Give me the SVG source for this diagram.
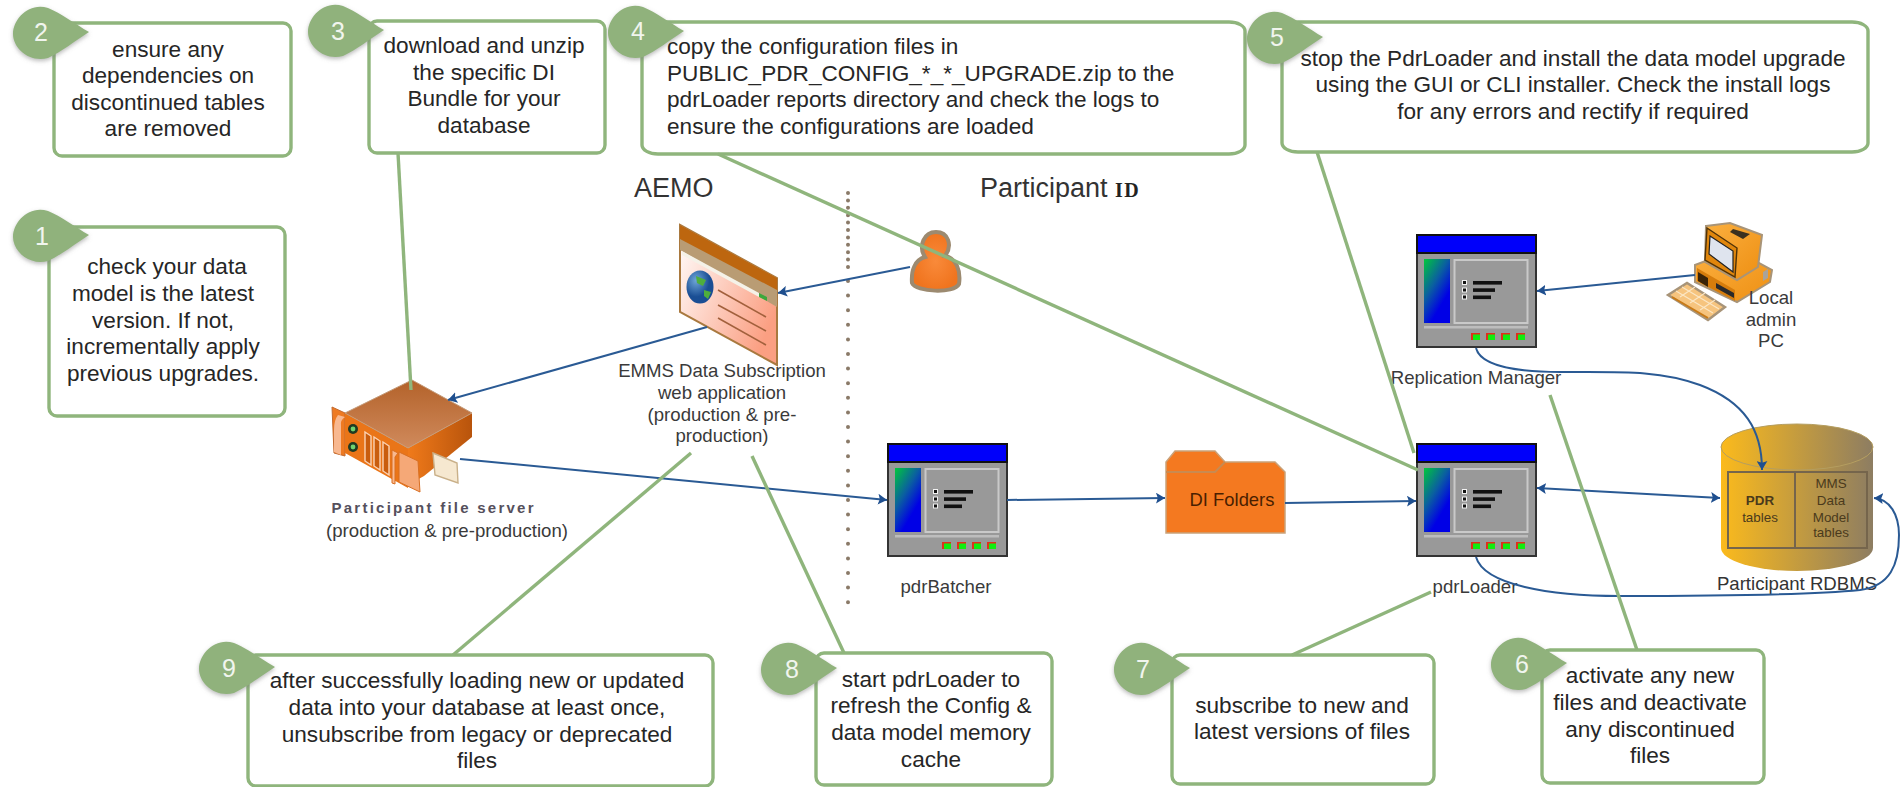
<svg xmlns="http://www.w3.org/2000/svg" xmlns:xlink="http://www.w3.org/1999/xlink" width="1901" height="787" viewBox="0 0 1901 787">
<style>
text{font-family:"Liberation Sans",Arial,sans-serif;fill:#262626}
.t{font-size:22.6px;text-anchor:middle}
.l{font-size:22.6px}
.n{font-size:25px;text-anchor:middle;fill:#f1f5ee}
.s{font-size:18.6px;text-anchor:middle;fill:#3a3a3a}
.h{font-size:27px;fill:#333}
.c{font-size:13.4px;text-anchor:middle;fill:#4a3a1c}
.box{fill:#fff;stroke:#8fb57c;stroke-width:3.4}
.g{stroke:#8fb57c;stroke-width:3.4;fill:none}
.b{stroke:#2a5a94;stroke-width:2;fill:none}
</style>
<defs>
<filter id="sh" x="-20%" y="-20%" width="140%" height="150%"><feDropShadow dx="0" dy="2" stdDeviation="2" flood-color="#777" flood-opacity=".5"/></filter>
<marker id="ah" viewBox="0 0 10 12" refX="10" refY="6" markerWidth="9" markerHeight="11" markerUnits="userSpaceOnUse" orient="auto-start-reverse"><path d="M0 0L10 6L0 12L2 6Z" fill="#1f4f8f"/></marker>
<linearGradient id="wg" x1="0" y1="0" x2=".55" y2=".8"><stop offset="0" stop-color="#00c83c"/><stop offset=".55" stop-color="#0a5fa0"/><stop offset="1" stop-color="#0000e6"/></linearGradient>
<linearGradient id="cy"><stop offset="0" stop-color="#fbba1c"/><stop offset="1" stop-color="#8d7d62"/></linearGradient>
<linearGradient id="sal" x1="0" y1="0" x2="1" y2=".6"><stop offset="0" stop-color="#fff"/><stop offset="1" stop-color="#fb9f82"/></linearGradient>
<linearGradient id="top" x1="0" y1="0" x2="0" y2="1"><stop offset="0" stop-color="#b3622a"/><stop offset="1" stop-color="#d08a5c"/></linearGradient>
<linearGradient id="rs"><stop offset="0" stop-color="#f07a1a"/><stop offset="1" stop-color="#b8540c"/></linearGradient>
<radialGradient id="pr"><stop offset="0" stop-color="#f98a3a"/><stop offset="1" stop-color="#f0741e"/></radialGradient>
<radialGradient id="gl" cx=".35" cy=".3"><stop offset="0" stop-color="#6fa6d8"/><stop offset="1" stop-color="#1a4e94"/></radialGradient>
<linearGradient id="pco" x1="0" y1="0" x2="1" y2="1"><stop offset="0" stop-color="#fbb040"/><stop offset="1" stop-color="#ee8f12"/></linearGradient>
<path id="badge" d="M0 0C-14 -8 -28 -19 -41 -24C-60 -30 -76 -13 -76 2C-76 16 -60 31 -41 26C-28 20 -14 9 0 0Z" fill="#90b27c" filter="url(#sh)"/>
<g id="win">
<rect x="1" y="1" width="119" height="112" fill="#999" stroke="#333" stroke-width="2"/>
<rect x="1" y="1" width="119" height="18" fill="#0000fa" stroke="#111" stroke-width="2"/>
<rect x="8" y="25" width="26" height="64" fill="url(#wg)"/>
<rect x="38.5" y="26" width="73" height="63" fill="none" stroke="#c9c9c9" stroke-width="2"/>
<rect x="8" y="92" width="104" height="2.5" fill="#bdbdbd"/>
<g fill="#f2f2f2"><rect x="46" y="46" width="5" height="5"/><rect x="46" y="53.5" width="5" height="5"/><rect x="46" y="60.5" width="5" height="5"/></g>
<g fill="#111"><rect x="47" y="47" width="3" height="3"/><rect x="47" y="54.5" width="3" height="3"/><rect x="47" y="61.5" width="3" height="3"/></g>
<g fill="#111"><rect x="57" y="47" width="29" height="3.6"/><rect x="57" y="54.3" width="22" height="3.6"/><rect x="57" y="61.5" width="18" height="3.6"/></g>
<g fill="#e0301c"><rect x="55" y="99" width="9" height="7"/><rect x="70" y="99" width="9" height="7"/><rect x="85" y="99" width="9" height="7"/><rect x="100" y="99" width="9" height="7"/></g>
<g fill="#10ee10"><rect x="57" y="100.5" width="7" height="5.5"/><rect x="72" y="100.5" width="7" height="5.5"/><rect x="87" y="100.5" width="7" height="5.5"/><rect x="102" y="100.5" width="7" height="5.5"/></g>
</g>
</defs>
<rect width="1901" height="787" fill="#fff"/>

<g id="node-2"><rect class="box" x="54" y="23" width="237" height="133" rx="8"/><use xlink:href="#badge" href="#badge" x="89" y="32"/><text class="n" x="41" y="41">2</text>
<text class="t" x="168" y="57">ensure any</text><text class="t" x="168" y="83">dependencies on</text><text class="t" x="168" y="110">discontinued tables</text><text class="t" x="168" y="136">are removed</text></g>

<g id="node-3"><rect class="box" x="369" y="21" width="236" height="132" rx="8"/><use xlink:href="#badge" href="#badge" x="384" y="30"/><text class="n" x="338" y="40">3</text>
<text class="t" x="484" y="53">download and unzip</text><text class="t" x="484" y="80">the specific DI</text><text class="t" x="484" y="106">Bundle for your</text><text class="t" x="484" y="133">database</text></g>

<g id="node-1"><rect class="box" x="49" y="227" width="236" height="189" rx="8"/><use xlink:href="#badge" href="#badge" x="89" y="235"/><text class="n" x="42" y="245">1</text>
<text class="t" x="167" y="274">check your data</text><text class="t" x="163" y="301">model is the latest</text><text class="t" x="163" y="328">version. If not,</text><text class="t" x="163" y="354">incrementally apply</text><text class="t" x="163" y="381">previous upgrades.</text></g>

<g id="node-4"><rect class="box" x="642" y="22" width="603" height="132" rx="16" ry="9"/><use xlink:href="#badge" href="#badge" x="684" y="31"/><text class="n" x="638" y="40">4</text>
<text class="l" x="667" y="54">copy the configuration files in</text><text class="l" x="667" y="81">PUBLIC_PDR_CONFIG_*_*_UPGRADE.zip to the</text><text class="l" x="667" y="107">pdrLoader reports directory and check the logs to</text><text class="l" x="667" y="134">ensure the configurations are loaded</text></g>

<g id="node-5"><rect class="box" x="1282" y="22" width="586" height="130" rx="16" ry="9"/><use xlink:href="#badge" href="#badge" x="1323" y="37"/><text class="n" x="1277" y="46">5</text>
<text class="t" x="1573" y="66">stop the PdrLoader and install the data model upgrade</text><text class="t" x="1573" y="92">using the GUI or CLI installer. Check the install logs</text><text class="t" x="1573" y="119">for any errors and rectify if required</text></g>

<g id="node-6"><rect class="box" x="1542" y="650" width="222" height="133" rx="8"/><use xlink:href="#badge" href="#badge" x="1567" y="663"/><text class="n" x="1522" y="673">6</text>
<text class="t" x="1650" y="683">activate any new</text><text class="t" x="1650" y="710">files and deactivate</text><text class="t" x="1650" y="737">any discontinued</text><text class="t" x="1650" y="763">files</text></g>

<g id="node-7"><rect class="box" x="1172" y="655" width="262" height="129" rx="8"/><use xlink:href="#badge" href="#badge" x="1190" y="668"/><text class="n" x="1143" y="678">7</text>
<text class="t" x="1302" y="713">subscribe to new and</text><text class="t" x="1302" y="739">latest versions of files</text></g>

<g id="node-8"><rect class="box" x="816" y="653" width="236" height="132" rx="8"/><use xlink:href="#badge" href="#badge" x="837" y="668"/><text class="n" x="792" y="678">8</text>
<text class="t" x="931" y="687">start pdrLoader to</text><text class="t" x="931" y="713">refresh the Config &amp;</text><text class="t" x="931" y="740">data model memory</text><text class="t" x="931" y="767">cache</text></g>

<g id="node-9"><rect class="box" x="248" y="655" width="465" height="131" rx="8"/><use xlink:href="#badge" href="#badge" x="275" y="667"/><text class="n" x="229" y="677">9</text>
<text class="t" x="477" y="688">after successfully loading new or updated</text><text class="t" x="477" y="715">data into your database at least once,</text><text class="t" x="477" y="742">unsubscribe from legacy or deprecated</text><text class="t" x="477" y="768">files</text></g>

<g id="aemo-label"><text class="h" x="634" y="197">AEMO</text></g>
<g id="participant-label"><text class="h" x="980" y="197">Participant <tspan font-family="'Liberation Serif',serif" font-weight="700" font-size="20" letter-spacing="1.5" style="fill:#222">ID</tspan></text></g>

<g id="divider" stroke="#8a7a68" stroke-width="4" stroke-linecap="round" fill="none">
<line x1="848" y1="193" x2="848" y2="268" stroke-dasharray="0 7.4"/>
<line x1="848" y1="281" x2="848" y2="614" stroke-dasharray="0 14.6"/>
</g>

<g id="web-app">
<path d="M680 225L777 278V365L680 312Z" fill="url(#sal)" stroke="#a9793f" stroke-width="2"/>
<path d="M680 225L777 278V307L680 250Z" fill="#b99c74"/>
<path d="M680 225L777 278V290L680 239Z" fill="#bd660f"/>
<path d="M682 251L759 293V297L682 255Z" fill="#f5f2e8"/>
<path d="M759 293L767 297V301L759 297Z" fill="#3ca83c"/>
<ellipse cx="700" cy="287" rx="13.5" ry="16.5" fill="url(#gl)"/>
<path d="M696 276L706 280L703 286L697 283ZM704 290L711 292L708 299L704 296Z" fill="#4fae3c"/>
<g stroke="#a2603c" stroke-width="1.6"><line x1="718" y1="290" x2="766" y2="317"/><line x1="718" y1="305" x2="766" y2="331"/><line x1="718" y1="318" x2="766" y2="345"/></g>
<text class="s" x="722" y="377">EMMS Data Subscription</text><text class="s" x="722" y="399">web application</text><text class="s" x="722" y="421">(production &amp; pre-</text><text class="s" x="722" y="442">production)</text>
</g>

<g id="person">
<path d="M925 257C915 260 911 270 912 283C916 292 954 294 959 284C961 270 956 258 945 256C953 245 948 232 936 232C924 232 918 246 925 257Z" fill="url(#pr)" stroke="#9c8a70" stroke-width="4"/>
</g>

<g id="file-server">
<path d="M332 407L345 413V456L334 453Z" fill="#ee7a22" stroke="#c26a30" stroke-width="1"/>
<path d="M345 413L408 448V488L345 453Z" fill="#ea7518"/>
<path d="M408 448L472 413V437L424 476L408 485Z" fill="url(#rs)"/>
<path d="M412 380L472 413L408 448L345 413Z" fill="url(#top)" stroke="#c49a78" stroke-width="1"/>
<path d="M399 452L418 461L420 492L399 482Z" fill="#f5a877" stroke="#d96f22" stroke-width="1"/>
<path d="M392 450L398 453L395 457V484L392 483Z" fill="#f8b890" stroke="#d96f22" stroke-width="1"/>
<path d="M338 415Q334 420 334 430V452L341 455V426Q340 420 345 417Z" fill="#f8b890"/>
<g fill="#c95d0e" stroke="#fbd3b5" stroke-width="1.4"><path d="M365 432L371 436V465L365 461Z"/><path d="M374 437L380 441V470L374 466Z"/><path d="M383 442L389 446V475L383 471Z"/></g>
<circle cx="353" cy="429" r="5" fill="#1f3a22"/><circle cx="353" cy="429" r="2.4" fill="#6fd36f"/>
<circle cx="353" cy="447" r="5" fill="#1f3a22"/><circle cx="353" cy="447" r="2.4" fill="#6fd36f"/>
<path d="M433 453L457 463L458 483L435 475Z" fill="#f6e8d0" stroke="#c9b089" stroke-width="1.4"/>
<text font-size="15" font-weight="700" x="331.5" y="513" textLength="202" lengthAdjust="spacing" style="fill:#55505c">Participant file server</text>
<text class="s" x="447" y="537">(production &amp; pre-production)</text>
</g>

<g id="pdrBatcher"><use xlink:href="#win" href="#win" x="887" y="443"/><text class="s" x="946" y="593">pdrBatcher</text></g>

<g id="di-folders">
<path d="M1175 451H1215L1225 462H1275L1285 472V533H1166V462Z" fill="#f47920" stroke="#c9a27a" stroke-width="1.5"/>
<path d="M1166 472H1215L1225 462" fill="none" stroke="#c98a50" stroke-width="2"/>
<text x="1232" y="506" font-size="18.4" text-anchor="middle" style="fill:#4a1f00">DI Folders</text>
</g>

<g id="pdrLoader"><use xlink:href="#win" href="#win" x="1416" y="443"/><text class="s" x="1475" y="593">pdrLoader</text></g>

<g id="replication-manager"><use xlink:href="#win" href="#win" x="1416" y="234"/><text class="s" x="1476" y="384">Replication Manager</text></g>

<g id="local-pc">
<path d="M1668 295L1687 283L1725 307L1708 320Z" fill="#f6c47e" stroke="#a89478" stroke-width="2.4"/>
<g stroke="#fbe6c4" stroke-width="1.2"><path d="M1676 291L1713 313M1682 287L1719 309M1680 297L1695 287M1690 303L1705 293M1700 310L1715 300"/></g>
<path d="M1672 297L1708 318" stroke="#c97a16" stroke-width="2"/>
<path d="M1695 265L1735 250L1772 270L1770 282L1737 302L1695 282Z" fill="url(#pco)" stroke="#a89478" stroke-width="2"/>
<path d="M1697 268L1735 290V301L1697 281Z" fill="#d67d0c"/>
<path d="M1698 272L1708 278V287L1698 281Z" fill="#3a2408"/>
<path d="M1716 283L1734 293V298L1716 288Z" fill="#2a2a2a"/>
<path d="M1763 272L1768 269V278L1763 281Z" fill="#a9a39a"/>
<path d="M1706 226L1730 223L1762 235L1758 267L1737 280L1705 262Z" fill="url(#pco)" stroke="#a89478" stroke-width="2"/>
<path d="M1707 228L1737 248L1735 277L1705 260Z" fill="#e0860c" stroke="#4f3208" stroke-width="1.4"/>
<path d="M1710 236L1733 251L1733 272L1709 254Z" fill="#dfe4ee" stroke="#222" stroke-width="1.2"/>
<path d="M1733 229L1750 234L1743 239L1730 232Z" fill="#3a3020"/>
<text x="1771" y="304" font-size="18.6" text-anchor="middle" style="fill:#3a3a3a">Local</text><text x="1771" y="326" font-size="18.6" text-anchor="middle" style="fill:#3a3a3a">admin</text><text x="1771" y="347" font-size="18.6" text-anchor="middle" style="fill:#3a3a3a">PC</text>
</g>

<g id="rdbms">
<path d="M1721 447V548A76 23 0 0 0 1873 548V447Z" fill="url(#cy)"/>
<ellipse cx="1797" cy="447" rx="76" ry="23" fill="url(#cy)" stroke="#b59e60" stroke-width="1"/>
<rect x="1728" y="472" width="139" height="76" fill="none" stroke="#75654c" stroke-width="2"/>
<line x1="1795" y1="472" x2="1795" y2="548" stroke="#75654c" stroke-width="2"/>
<text class="c" x="1760" y="505" font-weight="700">PDR</text><text class="c" x="1760" y="522">tables</text>
<text class="c" x="1831" y="488">MMS</text><text class="c" x="1831" y="505">Data</text><text class="c" x="1831" y="522">Model</text><text class="c" x="1831" y="537">tables</text>
<text x="1797" y="590" font-size="18.6" text-anchor="middle" style="fill:#333">Participant RDBMS</text>
</g>

<g id="connectors">
<g>
<line class="b" x1="910" y1="267" x2="778" y2="293" marker-end="url(#ah)"/>
<line class="b" x1="707" y1="327" x2="448" y2="400" marker-end="url(#ah)"/>
<line class="b" x1="460" y1="459" x2="887" y2="500" marker-end="url(#ah)"/>
<line class="b" x1="1007" y1="500" x2="1165" y2="498" marker-end="url(#ah)"/>
<line class="b" x1="1285" y1="503" x2="1416" y2="501" marker-end="url(#ah)"/>
<line class="b" x1="1537" y1="488" x2="1720" y2="498" marker-start="url(#ah)" marker-end="url(#ah)"/>
<line class="b" x1="1695" y1="275" x2="1537" y2="291" marker-end="url(#ah)"/>
<path class="b" d="M1476 348C1480 364 1510 372 1560 372C1620 372 1660 370 1700 385C1745 402 1762 430 1762 470" marker-end="url(#ah)"/>
<path class="b" d="M1476 557C1484 585 1550 596 1620 596C1690 596 1800 596 1860 590C1890 586 1899 565 1899 535C1899 515 1890 499 1874 498" marker-end="url(#ah)"/>
</g>
<g>
<line class="g" x1="398" y1="153" x2="411" y2="390"/>
<line class="g" x1="718" y1="154" x2="1418" y2="470"/>
<line class="g" x1="1317" y1="152" x2="1414" y2="453"/>
<line class="g" x1="1637" y1="650" x2="1550" y2="395"/>
<line class="g" x1="1292" y1="655" x2="1431" y2="592"/>
<line class="g" x1="844" y1="653" x2="752" y2="456"/>
<line class="g" x1="453" y1="655" x2="691" y2="453"/>
</g>
</g>
</svg>
